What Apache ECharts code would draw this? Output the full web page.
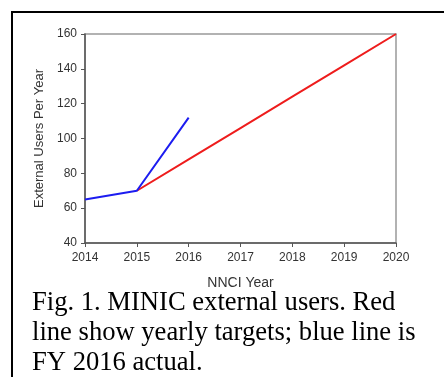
<!DOCTYPE html>
<html><head><meta charset="utf-8">
<script src="https://cdn.jsdelivr.net/npm/echarts@6/dist/echarts.min.js"></script>
<style>html,body{margin:0;padding:0;background:#fff;}#c{width:444px;height:377px;}</style>
</head><body><div id="c"></div>
<script>
const years = ['2014','2015','2016','2017','2018','2019','2020'];
const actual = [65, 70, 112, null, null, null, null];
const targets = [null, 70, 88, 106, 124, 142, 160];
const yTicks = {min: 40, max: 160, interval: 20};
const captionLines = ['Fig. 1. MINIC external users. Red', 'line show yearly targets; blue line is', 'FY 2016 actual.'];

const chart = echarts.init(document.getElementById('c'), null, {renderer: 'canvas'});
chart.setOption({
  animation: false,
  grid: {left: 85, right: 48, top: 34, bottom: 134, show: true, borderColor: '#999', borderWidth: 1.5},
  xAxis: {
    type: 'category', data: years, boundaryGap: false,
    name: 'NNCI Year', nameLocation: 'middle', nameGap: 33,
    nameTextStyle: {fontFamily: 'Liberation Sans', fontSize: 14, color: '#333'},
    axisLine: {lineStyle: {color: '#555', width: 1.5}},
    axisTick: {show: true, length: 4, alignWithLabel: true, lineStyle: {color: '#555'}},
    axisLabel: {fontFamily: 'Liberation Sans', fontSize: 12, color: '#333', margin: 9},
    splitLine: {show: false}
  },
  yAxis: {
    type: 'value', min: yTicks.min, max: yTicks.max, interval: yTicks.interval,
    name: 'External Users Per Year', nameLocation: 'middle', nameGap: 37,
    nameTextStyle: {fontFamily: 'Liberation Sans', fontSize: 13, color: '#333'},
    axisLine: {show: true, lineStyle: {color: '#555', width: 1.5}},
    axisTick: {show: true, length: 4, lineStyle: {color: '#555'}},
    axisLabel: {fontFamily: 'Liberation Sans', fontSize: 12, color: '#333', margin: 8},
    splitLine: {show: false}
  },
  series: [
    {type: 'line', data: targets, symbol: 'none', lineStyle: {color: '#ee1c1c', width: 2}, z: 2},
    {type: 'line', data: actual, symbol: 'none', lineStyle: {color: '#1c1cf0', width: 2}, z: 3}
  ],
  graphic: [
    {type: 'polyline', shape: {points: [[12, 377], [12, 12], [444, 12]]}, style: {stroke: '#000', lineWidth: 2, fill: null}},
    {type: 'group', left: 32, top: 290, children: captionLines.map((t, i) => ({
      type: 'text', x: 0, y: i * 30,
      style: {text: t, fontFamily: 'Liberation Serif', fontSize: 26.6, fill: '#000'}
    }))}
  ]
});
</script></body></html>
